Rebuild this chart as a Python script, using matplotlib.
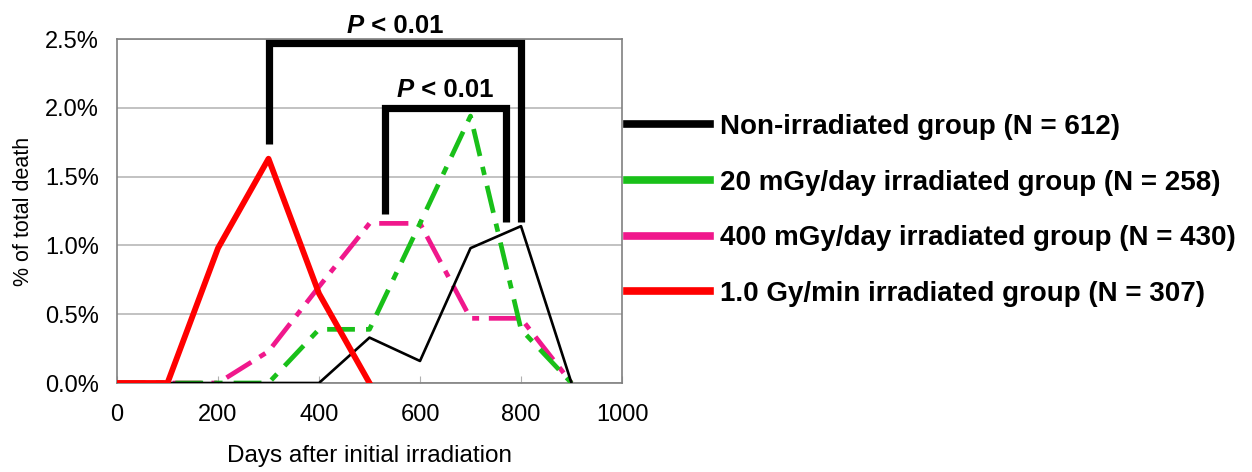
import matplotlib
matplotlib.use("Agg")
import matplotlib.pyplot as plt
from matplotlib.ticker import FuncFormatter
from matplotlib.lines import Line2D
from matplotlib.offsetbox import TextArea, HPacker, AnnotationBbox

plt.rcParams['font.family'] = ['Liberation Sans', 'DejaVu Sans']
plt.rcParams['lines.scale_dashes'] = False

days = [0, 100, 200, 300, 400, 500, 600, 700, 800, 900]
non_irr = [0, 0, 0, 0, 0, 0.33, 0.16, 0.98, 1.14, 0]
mgy20 = [0, 0, 0, 0, 0.39, 0.39, 1.16, 1.94, 0.39, 0]
mgy400 = [0, 0, 0, 0.23, 0.70, 1.16, 1.16, 0.47, 0.47, 0]
gy1_days = [0, 100, 200, 300, 400, 500]
gy1 = [0, 0, 0.98, 1.63, 0.65, 0]

labels = ["Non-irradiated group (N = 612)",
          "20 mGy/day irradiated group (N = 258)",
          "400 mGy/day irradiated group (N = 430)",
          "1.0 Gy/min irradiated group (N = 307)"]

xticks = [0, 200, 400, 600, 800, 1000]
yticks = [0.0, 0.5, 1.0, 1.5, 2.0, 2.5]

# significance brackets: (left x, left bottom, right x, right bottom, top)
brackets = [(300, 1.74, 800, 1.17, 2.47),
            (530, 1.23, 770, 1.17, 2.00)]
p_label = ("P", " < 0.01")

fig = plt.figure(figsize=(12.52, 4.72), dpi=100)
ax = fig.add_axes([117/1252, 1-383/472, (622-117)/1252, (383-39)/472])

black_c, green_c, pink_c, red_c = "#000000", "#19c019", "#f0188c", "#ff0000"

ax.plot(days, mgy400, color=pink_c, lw=3.4, dashes=(21, 7, 5, 7), zorder=3)
ax.plot(days, mgy20, color=green_c, lw=3.4, dashes=(20, 8, 6, 8), zorder=3)
ax.plot(days, non_irr, color=black_c, lw=1.9, zorder=4)
ax.plot(gy1_days, gy1, color=red_c, lw=4.2, zorder=5)

ax.set_xlim(0, 1000)
ax.set_ylim(0, 2.5)
ax.set_xticks(xticks)
ax.set_yticks(yticks)
ax.yaxis.set_major_formatter(FuncFormatter(lambda v, p: f"{v:.1f}%"))
ax.grid(axis='y', color='#b8b8b8', lw=1.2)
ax.set_axisbelow(True)
for s in ax.spines.values():
    s.set_color('#808080')
    s.set_linewidth(1.2)
ax.tick_params(axis='x', direction='in', length=5, color='#b0b0b0', labelsize=17, pad=15)
ax.tick_params(axis='y', length=0, labelsize=17, pad=13)
ax.set_xlabel("Days after initial irradiation", fontsize=17.5, labelpad=14)
ax.set_ylabel("% of total death", fontsize=15.5, labelpad=8)

for lx, lb, rx, rb, top in brackets:
    ax.plot([lx, lx, rx, rx], [lb, top, top, rb], color='black', lw=5.2,
            solid_joinstyle='miter', solid_capstyle='butt', clip_on=False, zorder=6)
    t1 = TextArea(p_label[0], textprops=dict(fontsize=18.5, fontweight='bold', fontstyle='italic'))
    t2 = TextArea(p_label[1], textprops=dict(fontsize=18.5, fontweight='bold'))
    box = HPacker(children=[t1, t2], pad=0, sep=0, align='baseline')
    ab = AnnotationBbox(box, ((lx + rx) / 2, top), xybox=(0, 4), xycoords='data',
                        boxcoords='offset points', box_alignment=(0.5, 0),
                        frameon=False, pad=0, annotation_clip=False)
    ab.set_zorder(7)
    ax.add_artist(ab)

handles = [Line2D([], [], color=c, lw=5.5) for c in (black_c, green_c, pink_c, red_c)]
fig.legend(handles, labels, loc='upper left', bbox_to_anchor=(627/1252, 1-114/472),
           frameon=False, prop={'weight': 'bold', 'size': 20}, handlelength=3.0,
           handletextpad=0.35, labelspacing=1.07, borderpad=0, borderaxespad=0)

fig.savefig("out.png", dpi=100)
